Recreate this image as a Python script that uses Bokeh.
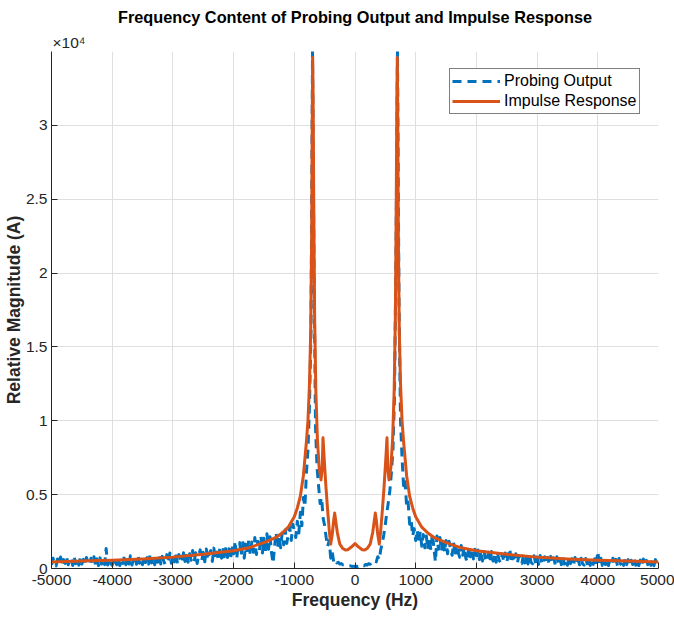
import numpy as np
from bokeh.plotting import figure
from bokeh.models import Range1d, FixedTicker, Legend, LegendItem, Title
from bokeh.embed import file_html
from bokeh.resources import INLINE

FONT = "Liberation Sans"

# ---------------- data ----------------
probe_freq = list(range(-5000, 5001, 25))

probe_mag_left_tail = [   # -5000 .. -1025
    250, 700, 380, 180, 650, 300, 780, 220, 600, 350,
    750, 250, 560, 680, 200, 760, 330, 640, 230, 700,
    300, 620, 200, 740, 420, 250, 690, 360, 800, 240,
    650, 200, 720, 300, 600, 260, 1350, 230, 680, 340,
    220, 780, 420, 260, 720, 200, 650, 340, 820, 260,
    700, 300, 860, 230, 640, 760, 290, 900, 350, 680,
    260, 840, 400, 740, 300, 940, 380, 800, 250, 880,
    420, 980, 300, 820, 480, 260, 940, 400, 1050, 350,
    880, 450, 1120, 320, 940, 560, 380, 1060, 480, 1150,
    420, 1000, 560, 1220, 440, 1060, 340, 940, 1260, 520,
    1100, 460, 1320, 600, 1020, 1220, 480, 1380, 660, 1120,
    520, 1440, 700, 1280, 560, 1540, 740, 1340, 600, 1640,
    800, 1850, 660, 1500, 1750, 850, 1900, 700, 1650, 1000,
    1950, 900, 1800, 1100, 2100, 950, 1850, 1200, 2200, 1050,
    2050, 1150, 2350, 1300, 2150, 1050, 350, 1500, 2450, 1400,
    2200, 1400, 2400, 1600, 2600, 1700, 2300, 2800, 1900, 3000,
]
probe_mag_inner = [       # -1000 .. 1000
    2600, 2100, 3200, 2400, 3800, 2900, 4800, 4200, 6500, 8000,
    11000, 16000, 35000, 20000, 9500, 6800, 5600, 4400, 4800, 3400,
    2900, 2100, 1500, 1900, 700, 1100, 450, 600, 380, 420,
    300, 330, 250, 260, 200, 210, 170, 180, 140, 160,
    130,
    150, 130, 190, 160, 220, 190, 270, 240, 320, 290,
    400, 360, 520, 450, 800, 600, 1300, 1700, 2300, 3000,
    3800, 4500, 5300, 6500, 8000, 11500, 21000, 35000, 18000, 10000,
    7500, 5600, 6000, 4200, 4500, 3000, 3300, 2200, 2700, 1900,
]
probe_mag_right_tail = [  # 1025 .. 5000
    2600, 1700, 2500, 1500, 2300, 1400, 2200, 1300, 2100, 1250,
    2400, 1400, 450, 2200, 1300, 2100, 1200, 2000, 1100, 1900,
    1000, 1850, 1250, 900, 1750, 850, 1650, 1100, 750, 1550,
    900, 1500, 700, 450, 1400, 800, 1350, 650, 1300, 600,
    1250, 600, 1200, 500, 1150, 700, 450, 1100, 550, 1150,
    500, 1050, 420, 1000, 550, 400, 980, 480, 1050, 420,
    900, 1350, 380, 880, 450, 1000, 360, 860, 430, 340,
    940, 380, 820, 300, 1000, 420, 320, 860, 360, 780,
    280, 880, 400, 260, 800, 320, 750, 260, 820, 350,
    720, 240, 800, 320, 680, 260, 760, 300, 640, 220,
    720, 330, 660, 230, 750, 300, 620, 250, 700, 320,
    230, 680, 320, 740, 210, 640, 280, 660, 250, 1150,
    300, 700, 210, 620, 270, 660, 200, 600, 320, 700,
    230, 620, 190, 680, 290, 580, 210, 640, 260, 600,
    180, 560, 270, 700, 220, 620, 200, 570, 250, 640,
    170, 550, 260, 620, 210, 580, 190, 600, 280, 360,
]

# Impulse Response (smooth curve)
impulse_freq = [
    -5000, -4500, -4000, -3500, -3000, -2500, -2000, -1750, -1500, -1300,
    -1200, -1100, -1000, -950, -900, -850, -800, -775, -750, -730,
    -715, -705, -697, -690, -680, -665, -645, -620, -590, -560,
    -540, -527, -510, -480, -450, -420, -400, -375, -350, -335,
    -320, -290, -250, -200, -160, -120, -60, 0,
    60, 120, 160, 200, 250, 290, 320, 335, 350, 375,
    400, 420, 450, 480, 510, 527, 540, 560, 590, 620,
    645, 665, 680, 690, 697, 705, 715, 730, 750, 775,
    800, 850, 900, 950, 1000, 1100, 1200, 1300, 1500, 1750,
    2000, 2500, 3000, 3500, 4000, 4500, 5000,
]
impulse_mag = [
    440, 500, 560, 650, 770, 960, 1200, 1400, 1750, 2100,
    2400, 2800, 3500, 4100, 4900, 6300, 8600, 10000, 12500, 16000,
    22000, 30000, 34600, 32000, 25000, 17000, 12000, 8800, 6800, 6000,
    6800, 8850, 7600, 5600, 3900, 2400, 1650, 2300, 3300, 3750,
    3300, 2400, 1650, 1350, 1260, 1270, 1450, 1680,
    1450, 1270, 1260, 1350, 1650, 2400, 3300, 3750, 3300, 2300,
    1650, 2400, 3900, 5600, 7600, 8850, 6800, 6000, 6800, 8800,
    12000, 17000, 25000, 32000, 34600, 30000, 22000, 16000, 12500, 10000,
    8600, 6300, 4900, 4100, 3500, 2800, 2400, 2100, 1750, 1400,
    1200, 960, 770, 650, 560, 500, 440,
]

x_ticks = [-5000, -4000, -3000, -2000, -1000, 0, 1000, 2000, 3000, 4000, 5000]
x_tick_labels = ["-5000", "-4000", "-3000", "-2000", "-1000", "0", "1000", "2000", "3000", "4000", "5000"]
y_ticks = [0, 5000, 10000, 15000, 20000, 25000, 30000]
y_tick_labels = ["0", "0.5", "1", "1.5", "2", "2.5", "3"]

probe_mag = probe_mag_left_tail + probe_mag_inner + probe_mag_right_tail

# ---------------- figure ----------------
p = figure(width=674, height=621,
           x_range=Range1d(-5000, 5000), y_range=Range1d(0, 35000),
           output_backend="svg", toolbar_location=None, title=None,
           min_border_left=51, min_border_right=16,
           min_border_top=50, min_border_bottom=53)
p.outline_line_color = None
p.background_fill_color = "white"
p.border_fill_color = "white"

AX = "#262626"

# exponent marker (closest to the frame) and main title
p.add_layout(Title(text="\u00d710\u2074", align="left", offset=1, standoff=1,
                   text_font=FONT, text_font_size="15.5px", text_font_style="normal",
                   text_color=AX), "above")
p.add_layout(Title(text="Frequency Content of Probing Output and Impulse Response",
                   align="center", standoff=11,
                   text_font=FONT, text_font_size="16.3px", text_font_style="bold",
                   text_color="black"), "above")

for ax in (p.xaxis[0], p.yaxis[0]):
    ax.axis_line_color = AX
    ax.axis_line_width = 1
    ax.major_tick_line_color = AX
    ax.major_tick_in = 6
    ax.major_tick_out = 0
    ax.minor_tick_line_color = None
    ax.major_label_text_font = FONT
    ax.major_label_text_font_size = "15.5px"
    ax.major_label_text_color = AX
    ax.axis_label_text_font = FONT
    ax.axis_label_text_font_size = "17.5px"
    ax.axis_label_text_font_style = "bold"
    ax.axis_label_text_color = AX

p.xaxis.ticker = FixedTicker(ticks=x_ticks)
p.xaxis.major_label_overrides = {t: s for t, s in zip(x_ticks, x_tick_labels)}
p.xaxis.axis_label = "Frequency (Hz)"
p.xaxis.major_label_standoff = 6
p.xaxis.axis_label_standoff = 2

p.yaxis.ticker = FixedTicker(ticks=y_ticks)
p.yaxis.major_label_overrides = {t: s for t, s in zip(y_ticks, y_tick_labels)}
p.yaxis.axis_label = "Relative Magnitude (A)"
p.yaxis.major_label_standoff = 4
p.yaxis.axis_label_standoff = -1

p.xgrid.ticker = FixedTicker(ticks=x_ticks)
p.ygrid.ticker = FixedTicker(ticks=y_ticks)
for g in (p.xgrid[0], p.ygrid[0]):
    g.grid_line_color = "#dfdfdf"
    g.grid_line_width = 1

r_probe = p.line(probe_freq, probe_mag, line_color="#0072BD", line_width=3,
                 line_dash="9 6", line_join="round")
r_imp = p.line(impulse_freq, impulse_mag, line_color="#D95319", line_width=3,
               line_join="round")

legend = Legend(items=[LegendItem(label="Probing Output", renderers=[r_probe]),
                       LegendItem(label="Impulse Response", renderers=[r_imp])],
                location=(398, 454))
legend.border_line_color = "black"
legend.border_line_width = 1
legend.background_fill_color = "white"
legend.background_fill_alpha = 1
legend.label_text_font = FONT
legend.label_text_font_size = "16px"
legend.label_text_color = "black"
legend.glyph_width = 48
legend.glyph_height = 20
legend.label_height = 20
legend.label_standoff = 4
legend.padding = 2
legend.spacing = 0
legend.margin = 0
p.add_layout(legend)

open("out.html", "w").write(file_html(p, INLINE))
